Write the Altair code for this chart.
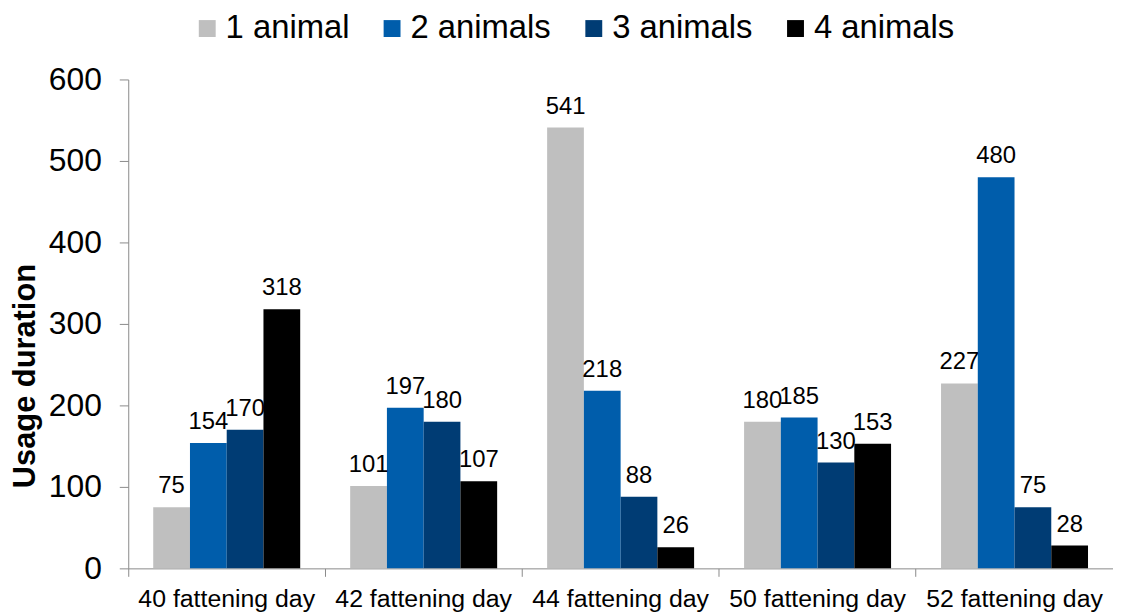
import altair as alt
import pandas as pd

days = ["40 fattening day", "42 fattening day", "44 fattening day",
        "50 fattening day", "52 fattening day"]
series = ["1 animal", "2 animals", "3 animals", "4 animals"]
one_animal = [75, 101, 541, 180, 227]
two_animals = [154, 197, 218, 185, 480]
three_animals = [170, 180, 88, 130, 75]
four_animals = [318, 107, 26, 153, 28]
colors = ["#bfbfbf", "#005dab", "#003c74", "#000000"]
y_ticks = [0, 100, 200, 300, 400, 500, 600]

rows = []
for s, vals in zip(series, [one_animal, two_animals, three_animals, four_animals]):
    for d, v in zip(days, vals):
        rows.append({"day": d, "group": s, "value": v})
df = pd.DataFrame(rows)

FONT = "Liberation Sans"

x_enc = alt.X("day:N", sort=days,
              scale=alt.Scale(paddingInner=0, paddingOuter=0),
              axis=alt.Axis(title=None, labelAngle=0, labelFontSize=25,
                            labelColor="#000000", labelPadding=10,
                            tickSize=8, bandPosition=0,
                            domainColor="#8a8a8a", tickColor="#8a8a8a"))
xo_enc = alt.XOffset("group:N", sort=series,
                     scale=alt.Scale(paddingInner=0, paddingOuter=0.68))
y_enc = alt.Y("value:Q",
              scale=alt.Scale(domain=[0, 600], nice=False),
              axis=alt.Axis(title="Usage duration", values=y_ticks,
                            labelFontSize=32, labelColor="#000000",
                            labelPadding=18, tickSize=9, grid=False,
                            domainColor="#8a8a8a", tickColor="#8a8a8a",
                            titleFontSize=31, titleFontWeight="bold",
                            titleColor="#000000", titleAngle=-90,
                            titleX=-103, titleY=298, titleAlign="center",
                            titleBaseline="middle"))

bars = alt.Chart(df).mark_bar().encode(
    x=x_enc,
    xOffset=xo_enc,
    y=y_enc,
    color=alt.Color("group:N", sort=series,
                    scale=alt.Scale(domain=series, range=colors),
                    legend=alt.Legend(title=None, orient="none",
                                      direction="horizontal",
                                      legendX=63, legendY=-68,
                                      symbolType="square", symbolSize=289,
                                      symbolStrokeWidth=0,
                                      labelFontSize=33, labelColor="#000000",
                                      labelOffset=2, columnPadding=26)),
)

labels = alt.Chart(df).mark_text(baseline="bottom", dy=-9, fontSize=24,
                                 color="#000000").encode(
    x=alt.X("day:N", sort=days),
    xOffset=alt.XOffset("group:N", sort=series),
    y=alt.Y("value:Q"),
    text=alt.Text("value:Q"),
)

chart = alt.layer(bars, labels).properties(
    width=991, height=492,
    padding={"left": 2, "top": 2, "right": 0, "bottom": 0},
).configure(font=FONT).configure_view(stroke=None)

chart.save("out.html", embed_options={"renderer": "svg", "actions": False})
